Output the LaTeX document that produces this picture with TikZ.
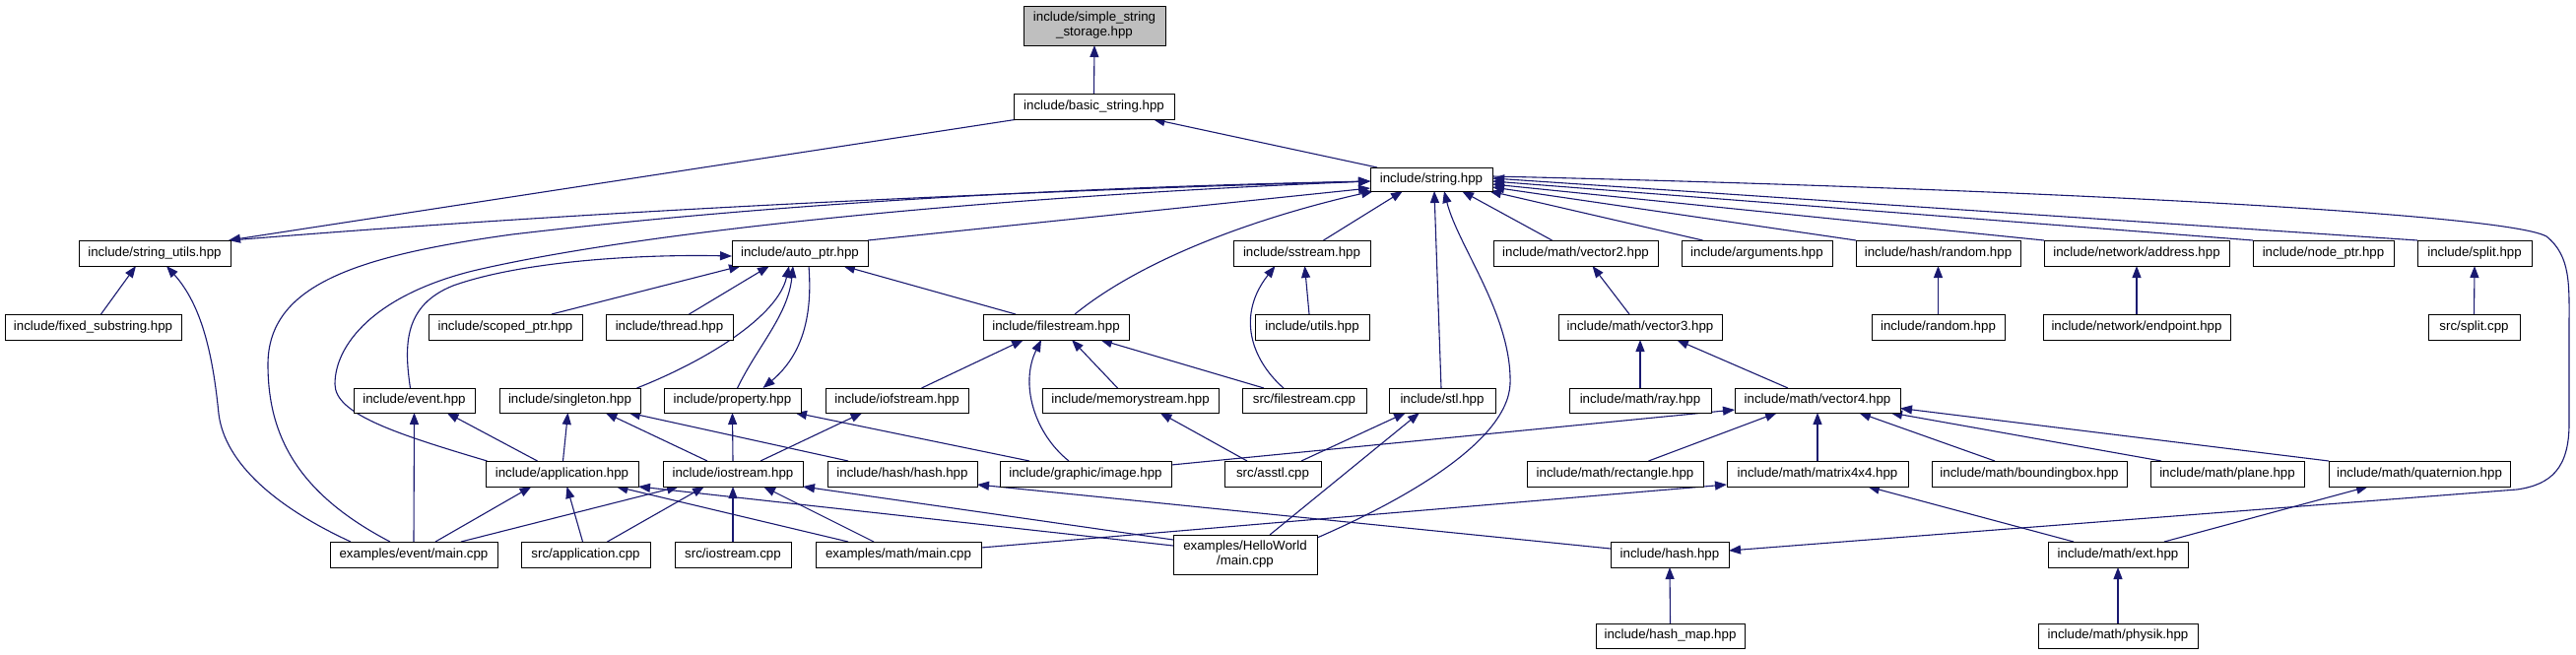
\documentclass[tikz,border=0pt]{standalone}
\usepackage{fontspec}
\setmainfont{Liberation Sans}
\usetikzlibrary{arrows.meta,backgrounds}
\definecolor{edgec}{RGB}{25,25,112}
\definecolor{rootfill}{RGB}{191,191,191}
\newcommand\dnode[6]{\node[filebox, minimum width={#4-#2}, minimum height={#5-#3}] (#1) at ({(#2+#4)/2},{(#3+#5)/2}) {#6};}
\tikzset{
  filebox/.style={draw=black, fill=white, line width=0.9pt, inner sep=0pt, outer sep=0pt, align=center, font=\fontsize{13.3}{15}\selectfont},
  dep/.style={draw=edgec, line width=1.1pt, -{Triangle[length=12pt,width=9pt]}}
}
\begin{document}
\begin{tikzpicture}[x=1pt,y=-1pt]
\useasboundingbox (0,0) rectangle (2615,664);
% nodes
\node[filebox, fill=rootfill, minimum width=144, minimum height=40] (ss) at (1111,26) {include/simple\_string\\\_storage.hpp};
\dnode{bs}{1029}{95}{1192}{121}{include/basic\_string.hpp}
\dnode{str}{1391}{170}{1515}{194}{include/string.hpp}
\dnode{su}{80}{244}{234}{270}{include/string\_utils.hpp}
\dnode{ap}{743}{244}{881}{270}{include/auto\_ptr.hpp}
\dnode{ssm}{1252}{244}{1391}{270}{include/sstream.hpp}
\dnode{vtwo}{1516}{244}{1683}{270}{include/math/vector2.hpp}
\dnode{arg}{1707}{244}{1860}{270}{include/arguments.hpp}
\dnode{hr}{1884}{244}{2051}{270}{include/hash/random.hpp}
\dnode{na}{2075}{244}{2263}{270}{include/network/address.hpp}
\dnode{np}{2287}{244}{2430}{270}{include/node\_ptr.hpp}
\dnode{sp}{2454}{244}{2570}{270}{include/split.hpp}
\dnode{fsub}{5}{319}{184}{345}{include/fixed\_substring.hpp}
\dnode{sc}{435}{319}{591}{345}{include/scoped\_ptr.hpp}
\dnode{th}{615}{319}{744}{345}{include/thread.hpp}
\dnode{fst}{998}{319}{1146}{345}{include/filestream.hpp}
\dnode{ut}{1274}{319}{1390}{345}{include/utils.hpp}
\dnode{vthree}{1582}{319}{1748}{345}{include/math/vector3.hpp}
\dnode{rnd}{1900}{319}{2035}{345}{include/random.hpp}
\dnode{ne}{2074}{319}{2264}{345}{include/network/endpoint.hpp}
\dnode{ssp}{2465}{319}{2558}{345}{src/split.cpp}
\dnode{ev}{359}{394}{482}{419}{include/event.hpp}
\dnode{sg}{507}{394}{650}{419}{include/singleton.hpp}
\dnode{pr}{674}{394}{813}{419}{include/property.hpp}
\dnode{iof}{838}{394}{983}{419}{include/iofstream.hpp}
\dnode{ms}{1058}{394}{1237}{419}{include/memorystream.hpp}
\dnode{sfs}{1261}{394}{1387}{419}{src/filestream.cpp}
\dnode{stl}{1410}{394}{1518}{419}{include/stl.hpp}
\dnode{ray}{1593}{394}{1737}{419}{include/math/ray.hpp}
\dnode{vfour}{1761}{394}{1929}{419}{include/math/vector4.hpp}
\dnode{app}{493}{468}{648}{494}{include/application.hpp}
\dnode{ios}{673}{468}{815}{494}{include/iostream.hpp}
\dnode{hh}{840}{468}{992}{494}{include/hash/hash.hpp}
\dnode{img}{1015}{468}{1189}{494}{include/graphic/image.hpp}
\dnode{asstl}{1243}{468}{1341}{494}{src/asstl.cpp}
\dnode{rect}{1550}{468}{1729}{494}{include/math/rectangle.hpp}
\dnode{mat}{1753}{468}{1937}{494}{include/math/matrix4x4.hpp}
\dnode{bb}{1961}{468}{2159}{494}{include/math/boundingbox.hpp}
\dnode{pl}{2183}{468}{2339}{494}{include/math/plane.hpp}
\dnode{qt}{2364}{468}{2548}{494}{include/math/quaternion.hpp}
\dnode{eem}{335}{550}{505}{576}{examples/event/main.cpp}
\dnode{sap}{529}{550}{660}{576}{src/application.cpp}
\dnode{sio}{685}{550}{803}{576}{src/iostream.cpp}
\dnode{emm}{828}{550}{996}{576}{examples/math/main.cpp}
\dnode{hw}{1191}{543}{1337}{583}{examples/HelloWorld\\/main.cpp}
\dnode{hsh}{1635}{550}{1755}{576}{include/hash.hpp}
\dnode{ext}{2079}{550}{2221}{576}{include/math/ext.hpp}
\dnode{hm}{1620}{633}{1771}{658}{include/hash\_map.hpp}
\dnode{phy}{2069}{633}{2231}{658}{include/math/physik.hpp}
% edges
\begin{scope}[on background layer]
\fill[white] (0,0) rectangle (2615,664);
\draw[dep] (bs.north) -- (ss.south);
\draw[dep] ([xshift=-55]str.north) -- ([xshift=60]bs.south);
\draw[dep] ([xshift=-77]bs.south) -- ([xshift=-2]su.north east);
\draw[dep] (su.north east) .. controls (500,222) and (900,198) .. ([yshift=-2]str.west);
\draw[dep] ([xshift=-24]eem.north) .. controls (300,500) and (272,440) .. (272,370) .. controls (272,290) and (360,260) .. (520,238) .. controls (800,205) and (1100,190) .. ([yshift=-2]str.west);
\draw[dep] ([xshift=-76]app.north) .. controls (400,440) and (340,420) .. (340,390) .. controls (340,350) and (380,300) .. (480,275) .. controls (650,235) and (1000,200) .. ([yshift=-2]str.west);
\draw[dep] (ap.north east) -- ([yshift=-9]str.west);
\draw[dep] ([xshift=19]fst.north) .. controls (1170,255) and (1300,215) .. ([xshift=3]str.south west);
\draw[dep] ([xshift=22]ssm.north) -- ([xshift=-29]str.south);
\draw[dep] ([xshift=-1]stl.north) -- ([xshift=3]str.south);
\draw[dep] ([yshift=-3]hw.north east) .. controls (1420,510) and (1530,450) .. (1533,390) .. controls (1535,320) and (1480,250) .. ([xshift=13]str.south);
\draw[dep] ([xshift=-24]vtwo.north) -- ([xshift=31]str.south);
\draw[dep] ([xshift=-55]arg.north) -- ([xshift=-3]str.south east);
\draw[dep] (hr.north west) -- ([yshift=-8]str.east);
\draw[dep] (na.north west) -- ([yshift=-5]str.east);
\draw[dep] (np.north west) -- ([yshift=-2]str.east);
\draw[dep] (sp.north west) -- ([yshift=1]str.east);
\draw[dep] ([yshift=3]str.east) .. controls (2000,190) and (2540,215) .. (2585,240) .. controls (2610,260) and (2608,290) .. (2608,330) -- (2608,430) .. controls (2608,475) and (2590,492) .. (2555,497) -- ([yshift=4]hsh.east);
\draw[dep] ([xshift=8]fsub.north) -- ([xshift=-19]su.south);
\draw[dep] ([xshift=-64]eem.north) .. controls (280,515) and (228,470) .. (222,420) .. controls (216,360) and (205,310) .. ([xshift=12]su.south);
\draw[dep] ([xshift=-4]ev.north) .. controls (410,350) and (410,310) .. (460,290) .. controls (530,265) and (650,258) .. ([yshift=-3]ap.west);
\draw[dep] ([xshift=47]sc.north) -- ([xshift=-60]ap.south);
\draw[dep] ([xshift=20]th.north) -- ([xshift=-31]ap.south);
\draw[dep] ([xshift=68]sg.north) .. controls (720,365) and (790,320) .. ([xshift=-11]ap.south);
\draw[dep] ([xshift=5]pr.north) .. controls (770,350) and (800,320) .. ([xshift=-7]ap.south);
\draw[dep] ([xshift=9]ap.south) .. controls (825,320) and (815,360) .. ([xshift=31]pr.north);
\draw[dep] ([xshift=-41]fst.north) -- ([xshift=44]ap.south);
\draw[dep] ([xshift=25]iof.north) -- ([xshift=-33]fst.south);
\draw[dep] ([xshift=-17]img.north) .. controls (1050,440) and (1035,390) .. ([xshift=-15]fst.south);
\draw[dep] ([xshift=-13]ms.north) -- ([xshift=16]fst.south);
\draw[dep] ([xshift=-41]sfs.north) -- ([xshift=45]fst.south);
\draw[dep] ([xshift=-21]sfs.north) .. controls (1270,365) and (1255,320) .. ([xshift=-27]ssm.south);
\draw[dep] ([xshift=-3]ut.north) -- ([xshift=3]ssm.south);
\draw[dep] ([xshift=-11]vthree.north) -- ([xshift=17]vtwo.south);
\draw[dep] (rnd.north) -- (hr.south);
\draw[dep] (ne.north) -- (na.south);
\draw[dep] (ssp.north) -- (sp.south);
\draw[dep] (ray.north) -- (vthree.south);
\draw[dep] ([xshift=-30]vfour.north) -- ([xshift=37]vthree.south);
\draw[dep] ([xshift=29]asstl.north) -- ([xshift=-37]stl.south);
\draw[dep] ([xshift=25]hw.north) -- ([xshift=-23]stl.south);
\draw[dep] ([xshift=-26]asstl.north) -- ([xshift=30]ms.south);
\draw[dep] ([yshift=-4]img.north east) -- ([yshift=3]vfour.south west);
\draw[dep] ([xshift=34]rect.north) -- ([xshift=-41]vfour.south);
\draw[dep] (mat.north) -- (vfour.south);
\draw[dep] ([xshift=-35]bb.north) -- ([xshift=42]vfour.south);
\draw[dep] ([xshift=11]pl.north west) -- ([xshift=74]vfour.south);
\draw[dep] (qt.north west) -- ([yshift=-8]vfour.east);
\draw[dep] ([xshift=-45]ext.north) -- ([xshift=51]mat.south);
\draw[dep] ([xshift=47]ext.north) -- ([xshift=-52]qt.south);
\draw[dep] (phy.north) -- (ext.south);
\draw[dep] ([yshift=7]emm.east) -- ([yshift=2]mat.south west);
\draw[dep] ([yshift=6]hsh.west) -- ([yshift=2]hh.south east);
\draw[dep] (hm.north) -- (hsh.south);
\draw[dep] ([xshift=21]hh.north west) -- ([xshift=-12]sg.south east);
\draw[dep] ([xshift=1]app.north) -- ([xshift=-2]sg.south);
\draw[dep] ([xshift=-26]ios.north) -- ([xshift=36]sg.south);
\draw[dep] (eem.north) -- (ev.south);
\draw[dep] ([xshift=-25]app.north) -- ([xshift=33]ev.south);
\draw[dep] (ios.north) -- (pr.south);
\draw[dep] ([xshift=-57]img.north) -- ([xshift=-6]pr.south east);
\draw[dep] ([xshift=28]ios.north) -- ([xshift=-35]iof.south);
\draw[dep] ([xshift=22]eem.north) -- ([xshift=-31]app.south);
\draw[dep] ([xshift=-3]sap.north) -- ([xshift=5]app.south);
\draw[dep] ([xshift=-51]emm.north) -- ([xshift=55]app.south);
\draw[dep] ([yshift=9]hw.west) -- (app.south east);
\draw[dep] ([yshift=15]hw.west) -- (ios.south east);
\draw[dep] ([xshift=48]eem.north) -- ([xshift=-55]ios.south);
\draw[dep] ([xshift=22]sap.north) -- ([xshift=-29]ios.south);
\draw[dep] (sio.north) -- (ios.south);
\draw[dep] ([xshift=-25]emm.north) -- ([xshift=31]ios.south);
\end{scope}
\end{tikzpicture}
\end{document}
